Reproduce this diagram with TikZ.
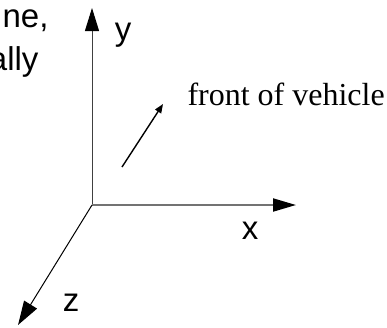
\documentclass[tikz,border=0pt]{standalone}
\usepackage{fontspec}
\setmainfont{Liberation Serif}
\setsansfont{Liberation Sans}
\usetikzlibrary{arrows.meta, positioning}

\begin{document}
\begin{tikzpicture}[x=1pt, y=-1pt, line width=1pt,
    axislabel/.style={font=\sffamily\fontsize{33}{38}\selectfont, inner sep=0pt}]
            \useasboundingbox (0,0) rectangle (387,327);
            \coordinate (O) at (92,205);
            \coordinate (ytip) at (92,8);
            \coordinate (xtip) at (296,205);
            \coordinate (ztip) at (18,325);
            \coordinate (fstart) at (122,167);
            \coordinate (fend) at (163,104);
            \draw[-{Triangle[length=23pt,width=14pt,black]}, black!75] (O) -- (ytip);
            \draw[-{Triangle[length=23pt,width=13pt,black]}, black!55, line width=2pt] (O) -- (xtip);
            \draw[-{Triangle[length=24pt,width=15pt]}, black] (O) -- (ztip);
            \draw[-{Triangle[length=9pt,width=7pt]}, line width=1.4pt] (fstart) -- (fend);
            \node[axislabel] (ylab) at (123,35) {y};
            \node[axislabel] (xlab) at (250,231) {x};
            \node[axislabel] (zlab) at (71,303) {z};
            \node[font=\fontsize{32}{37}\selectfont, inner sep=0pt, anchor=base west] (front) at (187,105) {front of vehicle};
            \node[axislabel, anchor=base east] (line1) at (49,27) {ne,};
            \node[axislabel, anchor=base east] (line2) at (39,70) {ally};
        \end{tikzpicture}
\end{document}
